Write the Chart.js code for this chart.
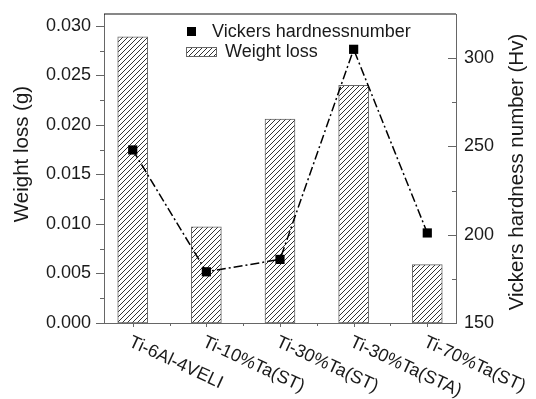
<!DOCTYPE html>
<html>
<head>
<meta charset="utf-8">
<script src="https://cdn.jsdelivr.net/npm/chart.js@4.4.1/dist/chart.umd.min.js"></script>
<style>
  html, body { margin: 0; padding: 0; background: #fff; }
  #wrap { width: 536px; height: 399px; }
</style>
</head>
<body>
<div id="wrap"><canvas id="chart" width="536" height="399"></canvas></div>
<script>
const alloys = ['Ti-6Al-4VELI', 'Ti-10%Ta(ST)', 'Ti-30%Ta(ST)', 'Ti-30%Ta(STA)', 'Ti-70%Ta(ST)'];
const weightLoss = [0.0289, 0.0097, 0.0206, 0.0240, 0.0059];
const hardness = [248, 179, 186, 305, 201];
const weightTicks = [0, 0.005, 0.010, 0.015, 0.020, 0.025, 0.030];
const hardnessTicks = [150, 200, 250, 300];

const FONT = '"Liberation Sans", Arial, sans-serif';
const INK = '#1a1a1a';
const AXIS = '#666';

// diagonal hatch for the bars
function hatch() {
    const c = document.createElement('canvas');
    c.width = 5; c.height = 5;
    const g = c.getContext('2d');
    g.fillStyle = '#fff';
    g.fillRect(0, 0, 5, 5);
    g.strokeStyle = '#333';
    g.lineWidth = 1;
    g.beginPath();
    g.moveTo(-1, 6); g.lineTo(6, -1);
    g.moveTo(-1, 1); g.lineTo(1, -1);
    g.moveTo(4, 6); g.lineTo(6, 4);
    g.stroke();
    return g.createPattern(c, 'repeat');
}
const hatchFill = hatch();

// no extra room for half tick labels, the frame is fixed
function noPad(s) {
    s.paddingTop = 0;
    s.paddingBottom = 0;
    s.paddingLeft = 0;
    s.paddingRight = 0;
}

// tick marks, top frame line, rotated labels, titles and legend
const decorations = {
    id: 'decorations',
    afterDraw(chart) {
        const ctx = chart.ctx;
        const area = chart.chartArea;
        const x = chart.scales.x, y = chart.scales.y, y1 = chart.scales.y1;
        ctx.save();

        // top frame
        ctx.strokeStyle = '#111';
        ctx.lineWidth = 1.2;
        ctx.beginPath();
        ctx.moveTo(area.left, area.top);
        ctx.lineTo(area.right, area.top);
        ctx.stroke();

        ctx.strokeStyle = AXIS;
        ctx.lineWidth = 1;
        ctx.beginPath();
        // left ticks (outward)
        for (let v = 0; v <= 0.0301; v += 0.0025) {
            const py = Math.round(y.getPixelForValue(v)) + 0.5;
            const major = Math.abs(v / 0.005 - Math.round(v / 0.005)) < 1e-6;
            ctx.moveTo(area.left, py);
            ctx.lineTo(area.left - (major ? 8 : 4), py);
        }
        // right ticks (inward)
        for (let v = 150; v <= 300; v += 25) {
            const py = Math.round(y1.getPixelForValue(v)) + 0.5;
            const major = v % 50 === 0;
            ctx.moveTo(area.right, py);
            ctx.lineTo(area.right - (major ? 8 : 4), py);
        }
        // bottom ticks (outward)
        for (let i = 0; i < alloys.length; i++) {
            const px = Math.round(x.getPixelForValue(i)) + 0.5;
            ctx.moveTo(px, area.bottom);
            ctx.lineTo(px, area.bottom + 4);
            if (i < alloys.length - 1) {
                const mx = Math.round(x.getPixelForValue(i + 0.5)) + 0.5;
                ctx.moveTo(mx, area.bottom);
                ctx.lineTo(mx, area.bottom + 3);
            }
        }
        ctx.stroke();

        // category labels, slanted down to the right
        ctx.fillStyle = INK;
        ctx.font = '18px ' + FONT;
        ctx.textAlign = 'left';
        ctx.textBaseline = 'top';
        alloys.forEach((name, i) => {
            const px = x.getPixelForValue(i);
            ctx.save();
            ctx.translate(px + 1, 333);
            ctx.rotate(25 * Math.PI / 180);
            ctx.fillText(name, 0, 0);
            ctx.restore();
        });

        // axis titles
        ctx.font = '20.5px ' + FONT;
        ctx.textAlign = 'center';
        ctx.textBaseline = 'middle';
        ctx.save();
        ctx.translate(22, 154);
        ctx.rotate(-Math.PI / 2);
        ctx.fillText('Weight loss (g)', 0, 0);
        ctx.restore();
        ctx.save();
        ctx.translate(517, 172);
        ctx.rotate(-Math.PI / 2);
        ctx.fillText('Vickers hardness number (Hv)', 0, 0);
        ctx.restore();

        // legend
        ctx.fillStyle = '#000';
        ctx.fillRect(187, 27, 9, 9);
        ctx.fillStyle = hatchFill;
        ctx.fillRect(186, 47, 31, 10);
        ctx.strokeStyle = AXIS;
        ctx.strokeRect(186.5, 47.5, 30, 9);
        ctx.fillStyle = INK;
        ctx.font = '18px ' + FONT;
        ctx.textAlign = 'left';
        ctx.fillText('Vickers hardnessnumber', 212, 32);
        ctx.fillText('Weight loss', 225, 52);

        ctx.restore();
    }
};

new Chart(document.getElementById('chart'), {
    type: 'bar',
    data: {
        datasets: [{
            type: 'line',
            label: 'Vickers hardnessnumber',
            data: hardness.map((v, i) => ({x: i, y: v})),
            yAxisID: 'y1',
            borderColor: '#000',
            borderWidth: 1.5,
            borderDash: [9, 3, 2, 3],
            pointStyle: 'rect',
            pointRadius: 6.5,
            pointBackgroundColor: '#000',
            pointBorderColor: '#000',
            pointBorderWidth: 0,
            tension: 0,
            order: 0,
        }, {
            label: 'Weight loss',
            data: weightLoss.map((v, i) => ({x: i, y: v})),
            yAxisID: 'y',
            backgroundColor: hatchFill,
            borderColor: AXIS,
            borderWidth: 1,
            borderSkipped: false,
            barThickness: 30,
            order: 1,
        }],
    },
    options: {
        responsive: false,
        animation: false,
        layout: {padding: {top: 14, left: 0, right: 0, bottom: 0}},
        plugins: {
            legend: {display: false},
            tooltip: {enabled: false},
        },
        scales: {
            x: {
                type: 'linear',
                min: -0.39,
                max: 4.39,
                offset: false,
                grid: {display: false},
                border: {display: true, color: AXIS, width: 1},
                ticks: {display: false},
                afterFit: (s) => { s.height = 76; noPad(s); },
            },
            y: {
                position: 'left',
                min: 0,
                max: 0.0312,
                afterBuildTicks: (s) => { s.ticks = weightTicks.map(v => ({value: v})); },
                ticks: {
                    color: INK,
                    font: {family: FONT, size: 18},
                    padding: 13,
                    callback: (v) => v.toFixed(3),
                },
                grid: {display: false, drawTicks: false},
                border: {display: true, color: AXIS, width: 1},
                afterFit: (s) => { s.width = 104; noPad(s); },
            },
            y1: {
                position: 'right',
                min: 150,
                max: 325,
                afterBuildTicks: (s) => { s.ticks = hardnessTicks.map(v => ({value: v})); },
                ticks: {
                    color: INK,
                    font: {family: FONT, size: 18},
                    padding: 8,
                },
                grid: {display: false, drawTicks: false},
                border: {display: true, color: AXIS, width: 1},
                afterFit: (s) => { s.width = 80; noPad(s); },
            },
        },
    },
    plugins: [decorations],
});
</script>
</body>
</html>
